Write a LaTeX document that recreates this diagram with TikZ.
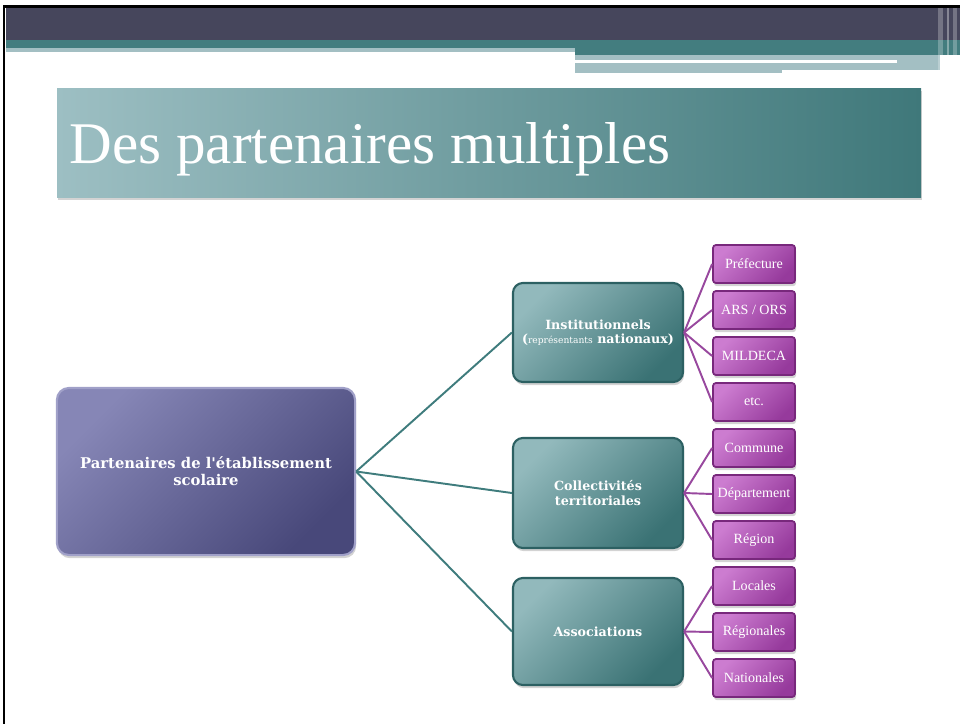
\documentclass[tikz,border=0pt]{standalone}
\usepackage{fontspec}
\setmainfont{Liberation Serif}
\newfontfamily\boxfont{DejaVu Serif}
\usetikzlibrary{shadows}

\definecolor{hdrdark}{RGB}{70,70,92}
\definecolor{hdrteal}{RGB}{67,125,127}
\definecolor{hdrlight}{RGB}{163,191,195}
\definecolor{titlelight}{RGB}{157,191,195}
\definecolor{titledark}{RGB}{63,120,122}
\definecolor{rootlight}{RGB}{134,134,182}
\definecolor{rootdark}{RGB}{72,72,122}
\definecolor{rootedge}{RGB}{160,160,200}
\definecolor{grouplight}{RGB}{146,185,188}
\definecolor{groupdark}{RGB}{58,114,116}
\definecolor{groupedge}{RGB}{44,96,98}
\definecolor{leaflight}{RGB}{204,124,208}
\definecolor{leafdark}{RGB}{150,58,156}
\definecolor{leafedge}{RGB}{120,40,124}
\definecolor{tealline}{RGB}{63,124,125}
\definecolor{purpleline}{RGB}{152,72,158}

\tikzset{
  softshadow/.style={drop shadow={opacity=0.35, shadow xshift=0.3pt, shadow yshift=-0.9pt}},
  rootbox/.style={draw=rootedge, line width=0.6pt, rounded corners=0.12cm,
    top color=rootlight, bottom color=rootdark, shading angle=45, softshadow,
    minimum width=2.98cm, minimum height=1.67cm, inner sep=0, align=center, text=white,
    font=\boxfont\bfseries\fontsize{4.2}{4.9}\selectfont},
  groupbox/.style={draw=groupedge, line width=0.6pt, rounded corners=0.1cm,
    top color=grouplight, bottom color=groupdark, shading angle=45, softshadow,
    minimum width=1.70cm, inner sep=0, align=center, text=white,
    font=\boxfont\bfseries\fontsize{3.6}{4.1}\selectfont},
  leafbox/.style={draw=leafedge, line width=0.5pt, rounded corners=0.03cm,
    top color=leaflight, bottom color=leafdark, shading angle=45, softshadow,
    minimum width=0.82cm, minimum height=0.38cm, inner sep=0, text=white,
    font=\fontsize{4}{4.8}\selectfont},
  tealedge/.style={draw=tealline, line width=0.55pt},
  purpleedge/.style={draw=purpleline, line width=0.55pt}
}

\begin{document}
\begin{tikzpicture}[x=0.01cm, y=-0.01cm]%
\useasboundingbox (0,0) rectangle (960,724);%
% header bands
\fill[hdrdark] (6,8) rectangle (960,40);%
\fill[hdrteal] (6,40) rectangle (960,48);%
\fill[hdrlight] (6,48) rectangle (575,52);%
\fill[hdrteal] (575,48) rectangle (960,55);%
\fill[hdrlight] (575,55) rectangle (940,70);%
\fill[hdrlight] (575,70) rectangle (782,73);%
\fill[white] (575,60) rectangle (897,62.5);%
\fill[white, opacity=0.25] (938,8) rectangle (943,72);%
\fill[white, opacity=0.35] (947,8) rectangle (949,72);%
\fill[white, opacity=0.25] (953,8) rectangle (957,72);%
\draw[line width=0.85pt] (4,724) -- (4,6.5) -- (960,6.5);%
% title
\shade[left color=titlelight, right color=titledark, softshadow] (57,88) rectangle (921,197);%
\node[anchor=base west, inner sep=0, text=white, font=\fontsize{16.8}{19}\selectfont] (title) at (69,163) {Des partenaires multiples};%
% boxes
\node[rootbox] (root) at (206,471.5) {Partenaires de l'établissement\\scolaire};%
\node[groupbox, minimum height=0.99cm] (inst) at (598,332.5) {Institutionnels\\(\textmd{\fontsize{2.6}{4.1}\selectfont représentants} nationaux)};%
\node[groupbox, minimum height=1.10cm] (coll) at (598,493) {Collectivités\\territoriales};%
\node[groupbox, minimum height=1.07cm] (assoc) at (598,631.5) {Associations};%
\node[leafbox] (pref) at (754,264) {Préfecture};%
\node[leafbox] (ars) at (754,310) {ARS / ORS};%
\node[leafbox] (mildeca) at (754,356) {MILDECA};%
\node[leafbox] (etc) at (754,402) {etc.};%
\node[leafbox] (commune) at (754,448) {Commune};%
\node[leafbox] (dept) at (754,494) {Département};%
\node[leafbox] (region) at (754,540) {Région};%
\node[leafbox] (locales) at (754,586) {Locales};%
\node[leafbox] (regionales) at (754,632) {Régionales};%
\node[leafbox] (nationales) at (754,678) {Nationales};%
% connectors
\draw[tealedge] (root.east) -- (inst.west);%
\draw[tealedge] (root.east) -- (coll.west);%
\draw[tealedge] (root.east) -- (assoc.west);%
\draw[purpleedge] (inst.east) -- (pref.west);%
\draw[purpleedge] (inst.east) -- (ars.west);%
\draw[purpleedge] (inst.east) -- (mildeca.west);%
\draw[purpleedge] (inst.east) -- (etc.west);%
\draw[purpleedge] (coll.east) -- (commune.west);%
\draw[purpleedge] (coll.east) -- (dept.west);%
\draw[purpleedge] (coll.east) -- (region.west);%
\draw[purpleedge] (assoc.east) -- (locales.west);%
\draw[purpleedge] (assoc.east) -- (regionales.west);%
\draw[purpleedge] (assoc.east) -- (nationales.west);%
\end{tikzpicture}
\end{document}
